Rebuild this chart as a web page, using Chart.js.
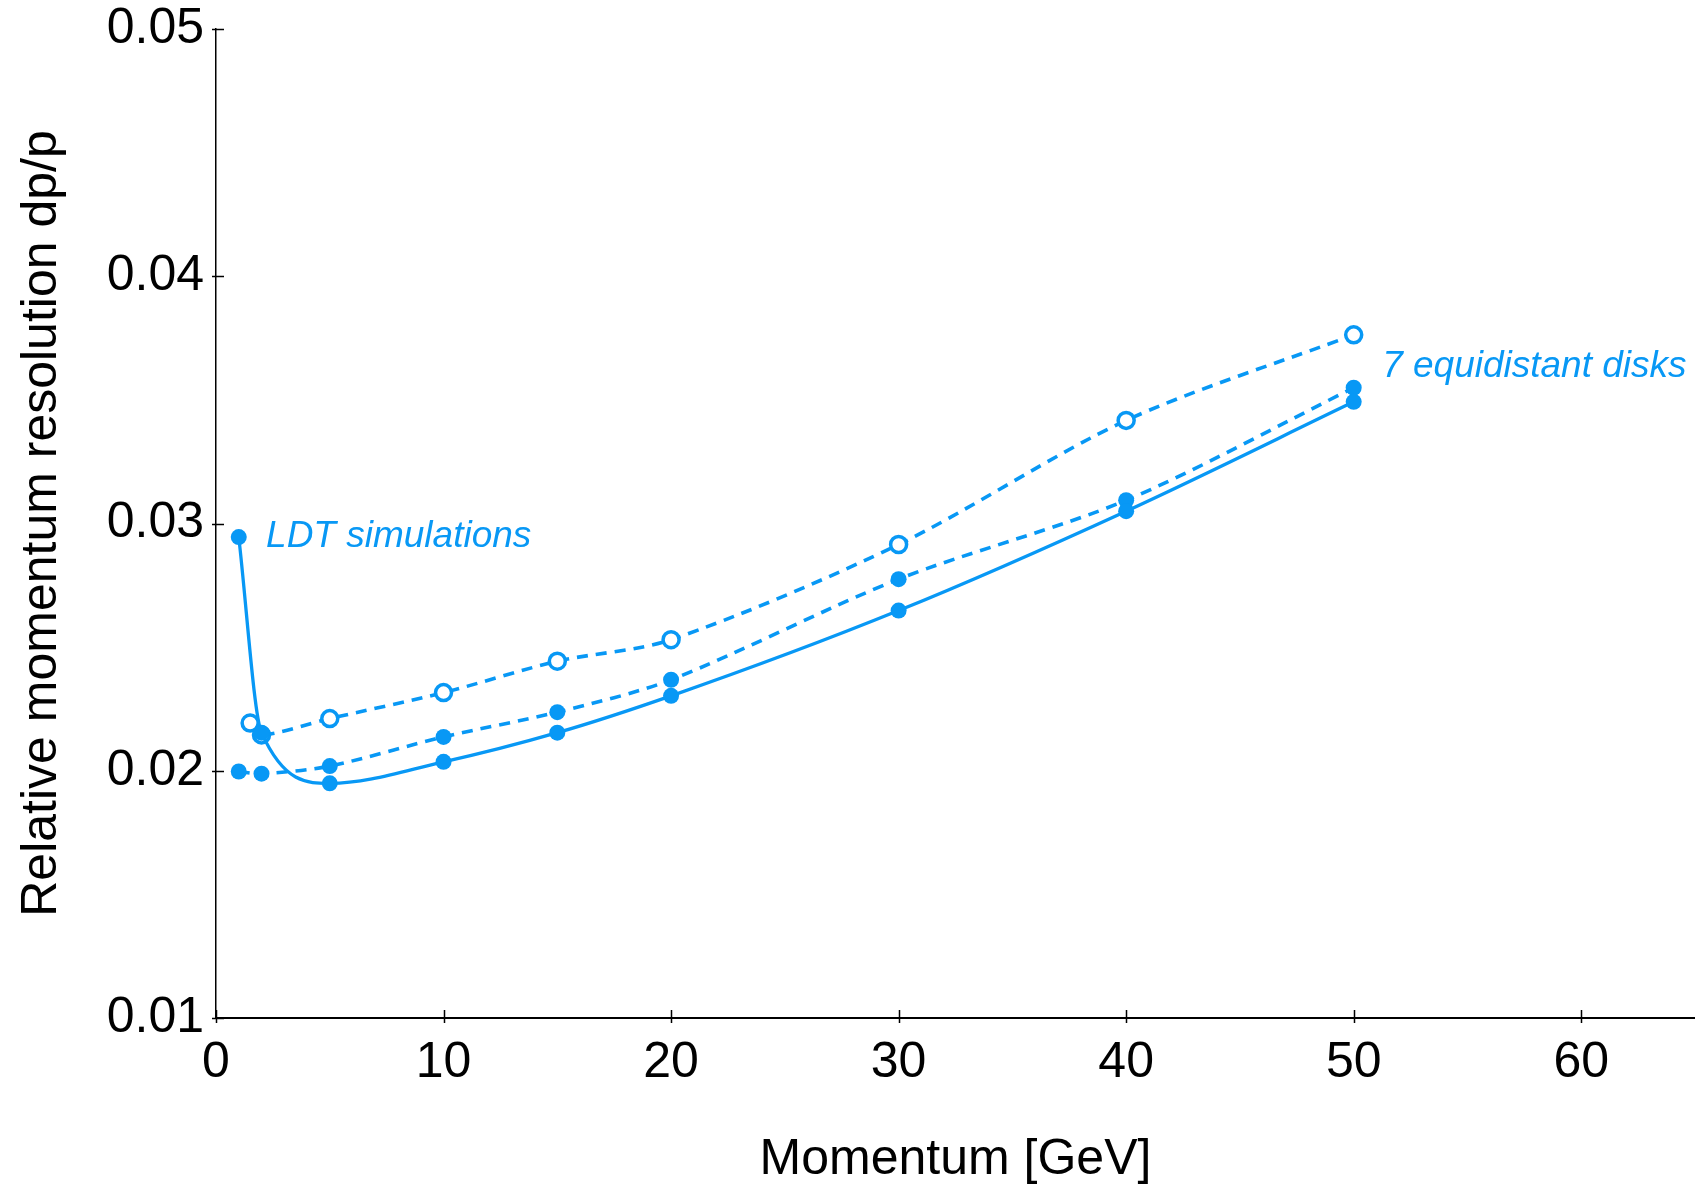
<!DOCTYPE html>
<html>
<head>
<meta charset="utf-8">
<script src="https://cdn.jsdelivr.net/npm/chart.js@4.4.0/dist/chart.umd.min.js"></script>
<style>
  html, body { margin: 0; padding: 0; background: #fff; }
  #wrap { width: 1695px; height: 1185px; }
</style>
</head>
<body>
<div id="wrap"><canvas id="grafico" width="1695" height="1185"></canvas></div>
<script>
const azul = "rgb(8,152,245)";

// LDT simulations (solid line, filled points)
const momentoLdt = [1, 2, 5, 10, 15, 20, 30, 40, 50];
const resolucionLdt = [0.02945, 0.02154, 0.01949, 0.02036, 0.02154, 0.02303, 0.02648, 0.0305, 0.03492];

// 7 equidistant disks (dashed, filled points)
const momentoDiscos = [1, 2, 5, 10, 15, 20, 30, 40, 50];
const resolucionDiscos = [0.01997, 0.01988, 0.02019, 0.02137, 0.02237, 0.02368, 0.02775, 0.03094, 0.03549];

// 7 equidistant disks (dashed, open points)
const momentoAbiertos = [1.5, 2, 5, 10, 15, 20, 30, 40, 50];
const resolucionAbiertos = [0.02193, 0.02145, 0.02211, 0.02316, 0.02443, 0.0253, 0.02915, 0.03417, 0.03763];

const ticksX = [0, 10, 20, 30, 40, 50, 60];
const ticksY = [0.01, 0.02, 0.03, 0.04, 0.05];

const etiquetas = [
    { texto: "LDT simulations", x: 2.2, y: 0.02945 },
    { texto: "7 equidistant disks", x: 51.25, y: 0.03636 }
];

const aPuntos = (xs, ys) => xs.map((x, i) => ({ x, y: ys[i] }));

Chart.defaults.font.family = "'Liberation Sans', Arial, sans-serif";
Chart.defaults.color = "#000";

// ticks hacia dentro + textos en cursiva
const marcasYTextos = {
    id: "marcasYTextos",
    afterDraw(chart) {
        const ctx = chart.ctx;
        const sx = chart.scales.x;
        const sy = chart.scales.y;
        ctx.save();
        ctx.strokeStyle = "#000";
        ctx.lineWidth = 1.5;
        ctx.beginPath();
        ticksX.forEach(v => {
            const px = Math.round(sx.getPixelForValue(v)) + 0.5;
            ctx.moveTo(px, sy.bottom - 8);
            ctx.lineTo(px, sy.bottom + 5);
        });
        ticksY.forEach(v => {
            const py = Math.round(sy.getPixelForValue(v)) + 0.5;
            ctx.moveTo(sx.left - 4, py);
            ctx.lineTo(sx.left + 8, py);
        });
        ctx.stroke();

        ctx.fillStyle = azul;
        ctx.font = "italic 37px 'Liberation Sans', Arial, sans-serif";
        ctx.textBaseline = "middle";
        ctx.textAlign = "left";
        etiquetas.forEach(e => {
            ctx.fillText(e.texto, sx.getPixelForValue(e.x), sy.getPixelForValue(e.y));
        });
        ctx.restore();
    }
};

const ctx = document.getElementById("grafico").getContext("2d");
const grafico = new Chart(ctx, {
    type: "line",
    data: {
        datasets: [
            {
                label: "LDT simulations",
                data: aPuntos(momentoLdt, resolucionLdt),
                borderColor: azul,
                borderWidth: 3.3,
                cubicInterpolationMode: "monotone",
                pointRadius: 8,
                pointBackgroundColor: azul,
                pointBorderWidth: 0,
                fill: false
            },
            {
                label: "7 equidistant disks",
                data: aPuntos(momentoDiscos, resolucionDiscos),
                borderColor: azul,
                borderWidth: 3.6,
                borderDash: [11, 8],
                tension: 0.3,
                pointRadius: 8,
                pointBackgroundColor: azul,
                pointBorderWidth: 0,
                fill: false
            },
            {
                label: "7 equidistant disks (open)",
                data: aPuntos(momentoAbiertos, resolucionAbiertos),
                borderColor: azul,
                borderWidth: 3.6,
                borderDash: [11, 8],
                tension: 0.3,
                pointRadius: 8,
                pointBackgroundColor: "#fff",
                pointBorderColor: azul,
                pointBorderWidth: 3.5,
                fill: false
            }
        ]
    },
    options: {
        responsive: false,
        animation: false,
        devicePixelRatio: 1,
        layout: { autoPadding: false, padding: { top: 29, right: 0, left: 0, bottom: 0 } },
        plugins: { legend: { display: false }, tooltip: { enabled: false } },
        scales: {
            x: {
                type: "linear",
                min: 0,
                max: 65,
                afterBuildTicks: s => { s.ticks = ticksX.map(v => ({ value: v })); },
                afterFit: s => {
                    s.height = 167;
                    s.paddingLeft = 0;
                    s.paddingRight = 0;
                },
                grid: { display: false, drawTicks: false },
                border: { display: true, color: "#000", width: 2 },
                ticks: { font: { size: 50 }, padding: 15, color: "#000", maxRotation: 0 },
                title: {
                    display: true,
                    text: "Momentum [GeV]",
                    font: { size: 50, lineHeight: 1 },
                    padding: { top: 0, bottom: 0 },
                    color: "#000"
                }
            },
            y: {
                type: "linear",
                min: 0.01,
                max: 0.05,
                afterBuildTicks: s => { s.ticks = ticksY.map(v => ({ value: v })); },
                afterFit: s => {
                    s.width = 216;
                    s.paddingTop = 0;
                    s.paddingBottom = 0;
                },
                grid: { display: false, drawTicks: false },
                border: { display: true, color: "#000", width: 1.5 },
                ticks: {
                    font: { size: 50 },
                    padding: 12,
                    color: "#000",
                    callback: v => v.toFixed(2)
                },
                title: {
                    display: true,
                    text: "Relative momentum resolution dp/p",
                    font: { size: 50, lineHeight: 1 },
                    padding: { top: 17, bottom: 0 },
                    color: "#000"
                }
            }
        }
    },
    plugins: [marcasYTextos]
});
</script>
</body>
</html>
